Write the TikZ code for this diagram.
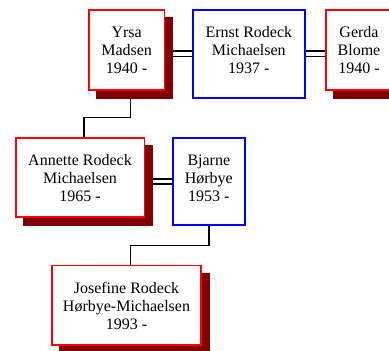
\documentclass[tikz,border=0pt]{standalone}
\usepackage{fontspec}
\setmainfont{Liberation Serif}
\usetikzlibrary{shadows,calc,backgrounds}
\definecolor{shadowred}{RGB}{128,0,0}
\newcommand\ptext[3]{\parbox[c][#2][t]{#1}{\centering\rule{0pt}{28pt}#3}}
\begin{document}
\begin{tikzpicture}[x=1pt,y=-1pt,
  person/.style={draw, line width=1.6pt, inner sep=0pt, outer sep=0pt, fill=white,
    font=\fontsize{16}{18}\selectfont},
  fem/.style={person, draw=red,
    drop shadow={shadow xshift=8pt, shadow yshift=-8pt, fill=shadowred,
      draw=shadowred, line width=1.6pt, opacity=1}},
  male/.style={person, draw=blue},
  link/.style={draw=black, line width=1.3pt},
  dbl/.style={draw=black, line width=1.4pt, double=white, double distance=3.8pt}]
\useasboundingbox (0,0) rectangle (389,351);
\clip (0,0) rectangle (389,351);

\node[fem]  (yrsa)     at (126.65,49.7)  {\ptext{75.3pt}{80pt}{Yrsa\\Madsen\\1940 -}};
\node[male] (ernst)    at (248.85,53.7)  {\ptext{112.3pt}{88pt}{Ernst Rodeck\\Michaelsen\\1937 -}};
\node[fem]  (gerda)    at (359,49.7)     {\ptext{66pt}{80pt}{Gerda\\Blome\\1940 -}};
\node[fem]  (annette)  at (80,177.45)    {\ptext{128.6pt}{79.5pt}{Annette Rodeck\\Michaelsen\\1965 -}};
\node[male] (bjarne)   at (208.85,181.45){\ptext{72.3pt}{87.5pt}{Bjarne\\Hørbye\\1953 -}};
\node[fem]  (josefine) at (126.5,305.15) {\ptext{149pt}{79.7pt}{Josefine Rodeck\\Hørbye-Michaelsen\\1993 -}};

\begin{scope}[on background layer]
  \draw[dbl] (ernst.west) -- (ernst.west -| yrsa.east);
  \draw[dbl] (ernst.east) -- (ernst.east -| gerda.west);
  \draw[dbl] (bjarne.west) -- (bjarne.west -| annette.east);
  \coordinate (m1) at ($([xshift=4pt,yshift=-8pt]yrsa.south)!0.5!([xshift=4pt]annette.north)$);
  \draw[link] ([xshift=4pt]yrsa.south) |- (m1) -| ([xshift=4pt]annette.north);
  \coordinate (m2) at ($(bjarne.south)!0.5!([xshift=4pt]josefine.north)$);
  \draw[link] (bjarne.south) |- (m2) -| ([xshift=4pt]josefine.north);
\end{scope}
\end{tikzpicture}
\end{document}
